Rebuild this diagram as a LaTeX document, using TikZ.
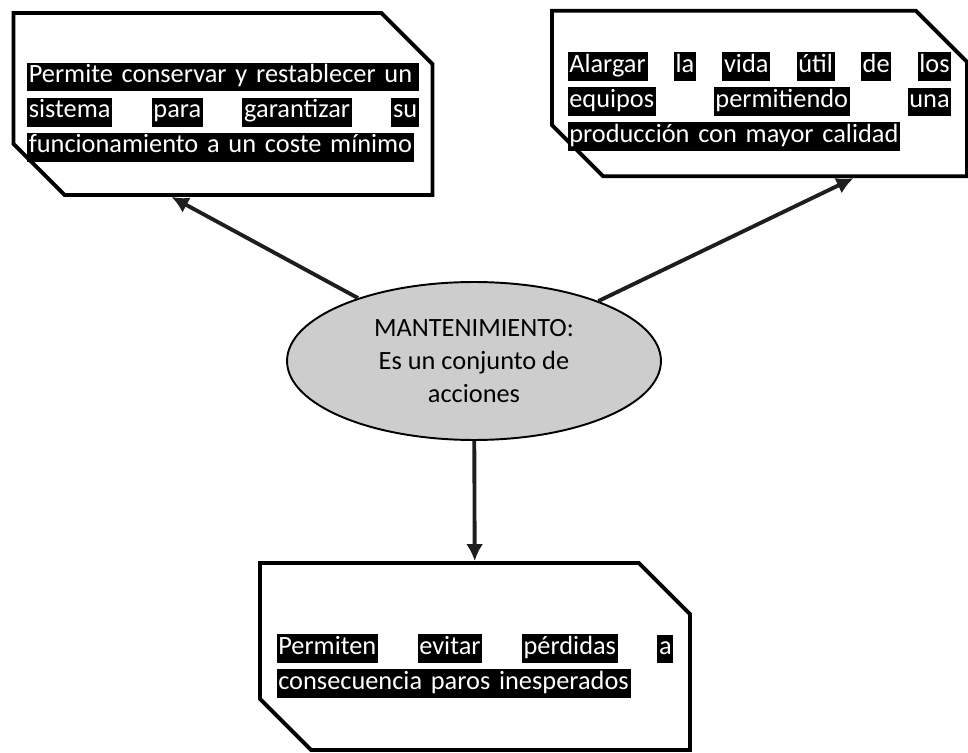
\documentclass[tikz,border=0pt]{standalone}
\usepackage{fontspec}
\setmainfont{Carlito}
\usepackage{xcolor}
\usetikzlibrary{arrows.meta,shapes.geometric,shapes.misc}
\definecolor{ovalgray}{RGB}{205,205,205}
\definecolor{inkgray}{RGB}{30,30,30}
\newcommand{\hl}[1]{{\setlength{\fboxsep}{1pt}\colorbox{black}{\rule[-4pt]{0pt}{14pt}#1}}}
\newcommand{\hlline}[1]{\hl{\makebox[\dimexpr\linewidth-2pt\relax][s]{#1}}}
\newcommand{\topgap}[1]{\rule{0pt}{#1}}

\begin{document}
\begin{tikzpicture}[x=0.02cm, y=-0.02cm,
    notebox/.style={chamfered rectangle, chamfered rectangle corners={north east, south west},
        chamfered rectangle xsep=0.52cm, chamfered rectangle ysep=0.5cm,
        draw=black, line width=2.2pt, fill=white, text=white, inner ysep=0pt, inner xsep=-0.27cm,
        font=\fontsize{15}{20}\selectfont},
    oval/.style={ellipse, draw=black, line width=1.1pt, fill=ovalgray, inner sep=0pt,
        minimum width=7.48cm, minimum height=3.16cm, align=center,
        font=\fontsize{15}{18.7}\selectfont},
    flecha/.style={line width=2.2pt, draw=inkgray, -{Latex[length=3.4mm, width=3.4mm]}}]
    \useasboundingbox (0,0) rectangle (968,753);

    % the three notes
    \node[notebox, minimum width=8.38cm, minimum height=3.64cm, text width=7.84cm] (b1) at (223,104)
        {\topgap{20.7pt}\hlline{Permite conservar y restablecer un}\\
         \hl{sistema}\hfill\hl{para}\hfill\hl{garantizar}\hfill\hl{su}\\
         \hl{funcionamiento a un coste mínimo}};
    \node[notebox, minimum width=8.3cm, minimum height=3.26cm, text width=7.68cm] (b2) at (759.5,93.5)
        {\topgap{20.7pt}\hl{Alargar}\hfill\hl{la}\hfill\hl{vida}\hfill\hl{útil}\hfill\hl{de}\hfill\hl{los}\\
         \hl{equipos}\hfill\hl{permitiendo}\hfill\hl{una}\\
         \hl{producción con mayor calidad}};
    \node[notebox, minimum width=8.6cm, minimum height=3.74cm, text width=7.94cm] (b3) at (475,656.5)
        {\topgap{22.5pt}\hl{Permiten}\hfill\hl{evitar}\hfill\hl{pérdidas}\hfill\hl{a}\\
         \hl{consecuencia paros inesperados}};

    % center
    \node[oval] (mant) at (474,361) {MANTENIMIENTO:\\Es un conjunto de\\acciones};

    \draw[flecha] (mant) -- (b1.241);
    \draw[flecha] (mant) -- (b2.318);
    \draw[flecha] (mant) -- (b3);
\end{tikzpicture}
\end{document}
